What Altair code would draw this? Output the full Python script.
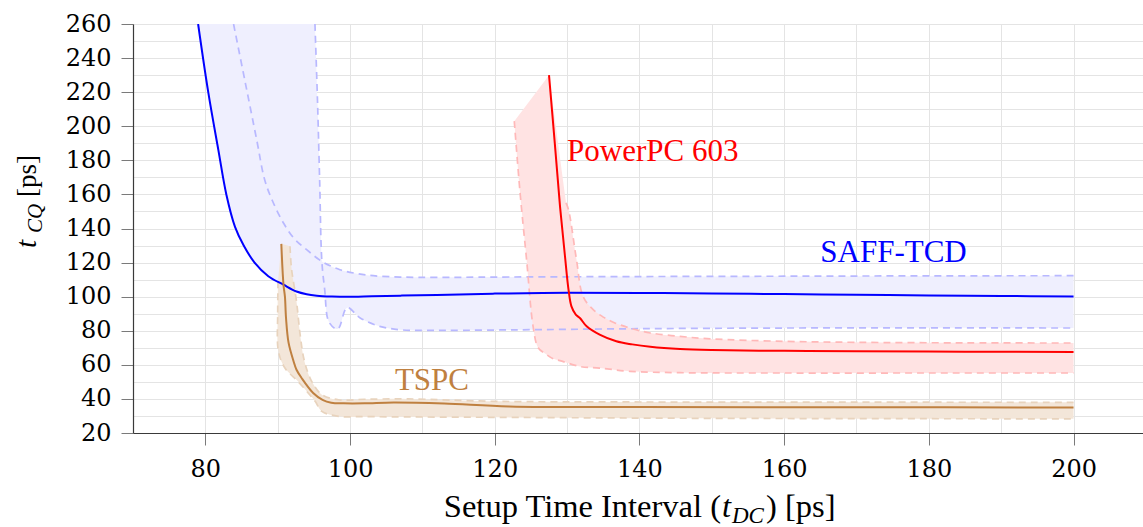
import altair as alt
import pandas as pd

# ---- measured curves: x = setup time interval t_DC [ps], y = clock-to-Q t_CQ [ps]
saff_x = [79.0, 80.4, 81.8, 82.9, 84.1, 85.3, 86.8, 88.7, 90.8, 92.6, 94.0,
          95.4, 97.5, 99.5, 103, 107, 112, 120, 130, 140, 150, 160, 170, 180, 190, 200]
saff_y = [260, 220, 186, 160, 141, 130, 120, 112, 107.0, 103.0, 101.4,
          100.6, 100.1, 99.9, 100.2, 100.6, 101.0, 101.8, 102.3, 102.2, 101.9, 101.5, 101.1,
          100.7, 100.4, 100.1]
saff_hi_x = [83.9, 85.5, 87.1, 88.2, 89.3, 90.8, 92.3, 94.0, 96.1, 98.6, 101, 103.2, 106.9,
             112, 120, 140, 160, 180, 200]
saff_hi_y = [260, 226, 192, 168.6, 156, 143.2, 134, 127.6, 120.7, 115.8, 113.5, 112.3, 111.5,
             111.3, 111.5, 111.8, 112.0, 112.2, 112.3]
saff_lo_x = [95.15, 95.5, 95.8, 96.1, 96.5, 97.1, 98.3, 99.6, 101.4, 104.1, 106.9, 110.6,
             122, 140, 160, 180, 200]
saff_lo_y = [260, 215, 168, 121, 104, 85, 81, 93.5, 87.5, 82.6, 80.6, 80.2,
             80.5, 81.2, 81.6, 81.7, 81.6]

ppc_x = [127.5, 128.3, 129.0, 129.7, 130.2, 130.6, 131.2, 131.8, 132.7, 134.5, 136.8, 139,
         141.5, 145.6, 150, 160, 170, 185, 200]
ppc_y = [230, 190, 154, 124, 104, 94.3, 89.5, 87.3, 82.6, 77.7, 73.8, 72, 70.6, 69.3, 68.7,
         68.2, 67.9, 67.7, 67.6]
ppc_hi_x = [129.85, 130.2, 131.3, 132.2, 133.6, 135, 136.6, 139, 141.5, 145.6, 150, 160,
            170, 185, 200]
ppc_hi_y = [155, 151, 121.7, 100.2, 92.4, 88, 84.6, 81.2, 78.7, 76.7, 75.2, 73.8, 73.2,
            72.9, 72.8]
ppc_lo_x = [122.7, 123.5, 124.4, 125.3, 126.0, 127.0, 128.1, 129.0, 131.8, 134.5, 138.7,
            145.6, 160, 180, 200]
ppc_lo_y = [203, 161, 121.7, 82.6, 70, 66.5, 63.5, 62.5, 59, 58.1, 56.2, 55.4, 55.2, 55.2,
            55.2]

tspc_x = [90.5, 90.8, 91.0, 91.15, 91.5, 92.2, 92.6, 93.3, 94.9, 96.2, 97.4, 99.1, 102, 106,
          113, 122, 140, 170, 200]
tspc_y = [131, 107, 100, 87.5, 73, 62, 57.1, 52.3, 43.5, 39.5, 37.8, 37.4, 37.4, 37.9, 37.3,
          35.6, 35.2, 35.1, 35.0]
tspc_hi_x = [91.7, 91.9, 92.6, 93.1, 93.7, 94.7, 96.1, 98.4, 102, 108, 120, 140, 170, 200]
tspc_hi_y = [129.6, 116.8, 97.2, 77.7, 62, 50.3, 42.5, 39.5, 39.8, 40, 38.6, 38.2, 38.1, 38.0]
tspc_lo_x = [90.05, 90.0, 90.1, 91.0, 92.8, 94.3, 95.2, 96.1, 98.4, 102, 120, 150, 200]
tspc_lo_y = [109, 90, 68, 58.1, 50.3, 43, 38.5, 32.7, 29.8, 29.6, 29.2, 28.6, 28.3]

series_names = ["SAFF-TCD", "PowerPC 603", "TSPC"]
line_colors = ["#0000FF", "#FF0000", "#BF8040"]
edge_colors = ["#B8B8FF", "#FFB8B8", "#E8D3BD"]
fill_colors = ["#EFEFFE", "#FFE3E3", "#F3E6D9"]

# curve labels placed next to each family (data coordinates)
label_x = [165.0, 130.0, 106.2]
label_y = [125.6, 185.0, 50.3]

curves = {
    "SAFF-TCD": {"main": (saff_x, saff_y), "hi": (saff_hi_x, saff_hi_y), "lo": (saff_lo_x, saff_lo_y)},
    "PowerPC 603": {"main": (ppc_x, ppc_y), "hi": (ppc_hi_x, ppc_hi_y), "lo": (ppc_lo_x, ppc_lo_y)},
    "TSPC": {"main": (tspc_x, tspc_y), "hi": (tspc_hi_x, tspc_hi_y), "lo": (tspc_lo_x, tspc_lo_y)},
}

# long table of all curves, plus closed outlines (nominal curve + reversed bound);
# the corner points at the right end are doubled so the spline keeps a sharp edge there
line_rows, poly_rows = [], []
for name, parts in curves.items():
    for part, (xs, ys) in parts.items():
        for i, (xv, yv) in enumerate(zip(xs, ys)):
            line_rows.append({"series": name, "part": part, "i": i, "x": xv, "y": yv})
    mx, my = parts["main"]
    for bound in ("hi", "lo"):
        bx, by = parts[bound]
        px = list(mx) + [mx[-1], bx[-1]] + list(bx)[::-1]
        py = list(my) + [my[-1], by[-1]] + list(by)[::-1]
        for i, (xv, yv) in enumerate(zip(px, py)):
            poly_rows.append({"series": name, "poly": bound, "i": i, "x": xv, "y": yv})
lines = pd.DataFrame(line_rows)
polys = pd.DataFrame(poly_rows)
labels = pd.DataFrame({"series": series_names, "x": label_x, "y": label_y})

W, H = 1010, 409
SERIF = "Liberation Serif"
TICK_FONT = "DejaVu Serif"
CURVE = "catmull-rom"

x_axis = alt.Axis(
    values=list(range(70, 211, 10)),
    labelExpr="datum.value % 20 == 0 ? datum.label : ''",
    title=None, grid=True, gridColor="#E4E4E4", gridWidth=1,
    domainColor="#3A3A3A", domainWidth=1.2,
    tickColor="#7A7A7A", tickSize=12, tickWidth=1,
    tickOpacity={"condition": {"test": "datum.value % 20 != 0", "value": 0}, "value": 1},
    labelFont=TICK_FONT, labelFontSize=24, labelColor="#000000", labelPadding=12,
    labelFlush=False, labelOverlap=False,
)
y_axis = alt.Axis(
    values=list(range(20, 261, 10)),
    labelExpr="datum.value % 20 == 0 ? datum.label : ''",
    title=None, grid=True, gridColor="#E4E4E4", gridWidth=1,
    domainColor="#3A3A3A", domainWidth=1.2,
    tickColor="#7A7A7A", tickSize=12, tickWidth=1,
    tickOpacity={"condition": {"test": "datum.value % 20 != 0", "value": 0}, "value": 1},
    labelFont=TICK_FONT, labelFontSize=24, labelColor="#000000", labelPadding=10,
    labelFlush=False, labelOverlap=False,
)
X = alt.X("x:Q", scale=alt.Scale(domain=[70, 209.6], nice=False, zero=False), axis=x_axis)
Y = alt.Y("y:Q", scale=alt.Scale(domain=[20, 260], nice=False, zero=False), axis=y_axis)

layers = []
# shaded spread of each family
for name, fc in zip(series_names, fill_colors):
    layers.append(
        alt.Chart(polys)
        .transform_filter(alt.datum.series == name)
        .mark_line(fill=fc, stroke=fc, strokeOpacity=0, strokeWidth=0, clip=True,
                   interpolate=CURVE)
        .encode(x=X, y=Y, order="i:Q", detail="poly:N")
    )
# dashed bounds
layers.append(
    alt.Chart(lines)
    .transform_filter(alt.datum.part != "main")
    .mark_line(strokeDash=[7, 5], strokeWidth=1.7, clip=True, interpolate=CURVE)
    .encode(x=X, y=Y, order="i:Q", detail="part:N",
            color=alt.Color("series:N", scale=alt.Scale(domain=series_names, range=edge_colors), legend=None))
)
# nominal curves
layers.append(
    alt.Chart(lines)
    .transform_filter(alt.datum.part == "main")
    .mark_line(strokeWidth=2, clip=True, interpolate=CURVE)
    .encode(x=X, y=Y, order="i:Q",
            color=alt.Color("series:N", scale=alt.Scale(domain=series_names, range=line_colors), legend=None))
)
# curve names
layers.append(
    alt.Chart(labels)
    .mark_text(font=SERIF, fontSize=31, align="left", baseline="middle")
    .encode(x=X, y=Y, text="series:N",
            color=alt.Color("series:N", scale=alt.Scale(domain=series_names, range=line_colors), legend=None))
)

# axis titles assembled from pieces (italic symbol with subscript)
one = pd.DataFrame({"k": [0]})


def piece(txt, px, py, size, italic=False, angle=0, align="left"):
    return alt.Chart(one).mark_text(
        text=txt, font=SERIF, fontSize=size, fontStyle="italic" if italic else "normal",
        align=align, baseline="alphabetic", angle=angle, color="#000000",
    ).encode(x=alt.value(px), y=alt.value(py))


# x title, baseline 493 px below plot top
xt = 588
layers += [
    piece("Setup Time Interval (", xt, 493, 32.5, align="right"),
    piece("t", xt + 1, 493, 32.5, italic=True),
    piece("DC", xt + 11, 499, 23, italic=True),
    piece(") [ps]", xt + 45, 493, 32.5),
]
# y title, rotated to read upwards
yb = 224
layers += [
    piece("t", -97, yb, 29, italic=True, angle=270),
    piece("CQ", -91, yb - 15, 21, italic=True, angle=270),
    piece("[ps]", -97, yb - 51, 27, angle=270),
]

chart = (
    alt.layer(*layers)
    .resolve_scale(color="independent")
    .properties(
        width=W, height=H,
        autosize=alt.AutoSizeParams(type="none"),
        padding={"left": 133, "top": 24, "right": 0, "bottom": 94},
        background="#FFFFFF",
    )
    .configure_view(stroke=None)
)

chart.save("out.html", embed_options={"renderer": "svg", "actions": False})
